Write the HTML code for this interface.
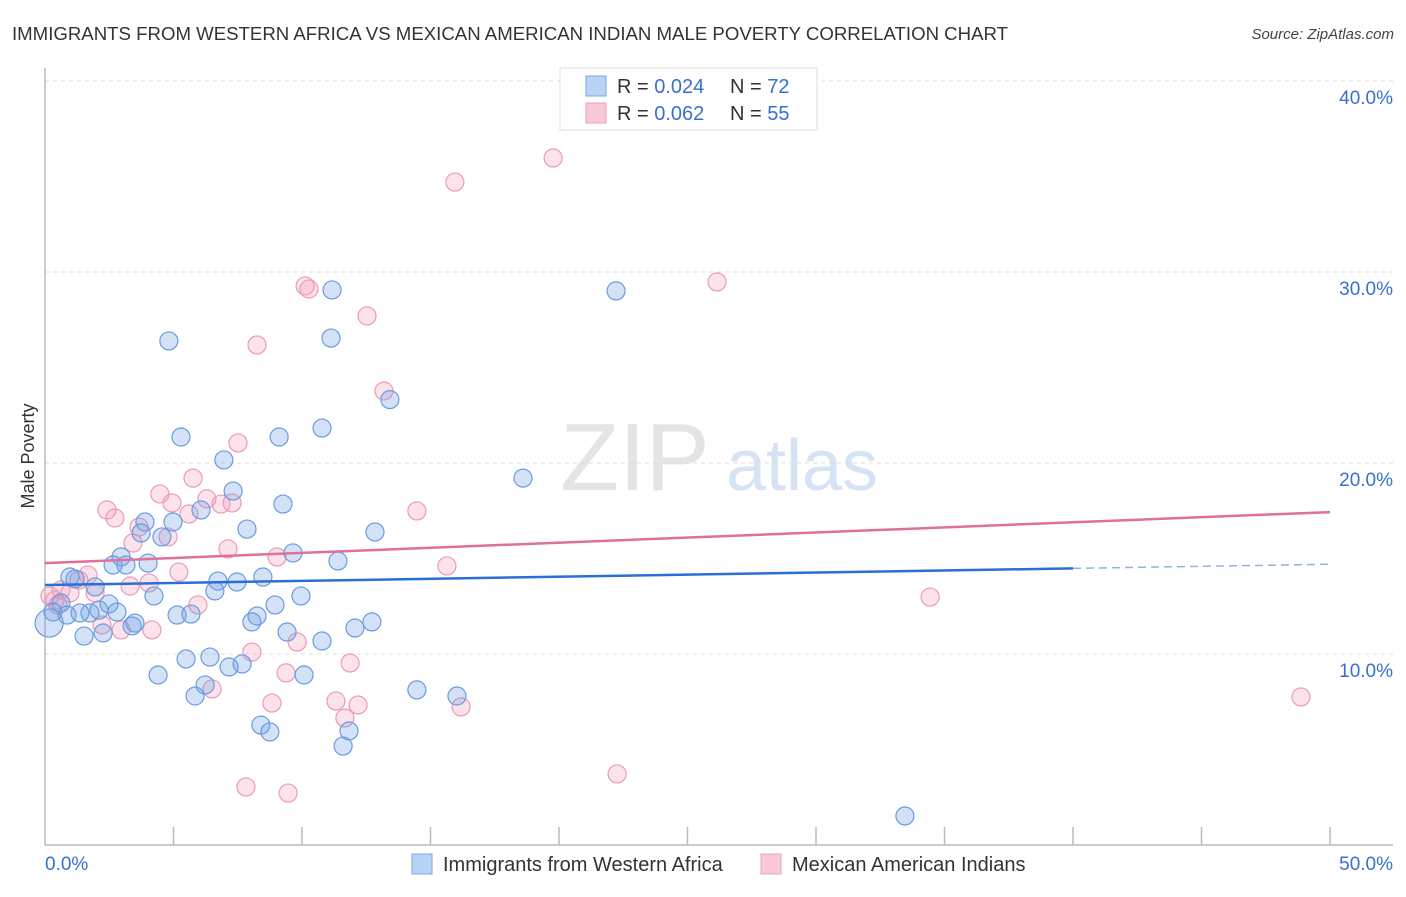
<!DOCTYPE html>
<html><head><meta charset="utf-8">
<style>
body{margin:0;background:#fff;font-family:"Liberation Sans",sans-serif;}
svg text{font-family:"Liberation Sans",sans-serif;}
</style></head>
<body>
<svg id="chart" width="1406" height="892" viewBox="0 0 1406 892" xmlns="http://www.w3.org/2000/svg">
<text x="12" y="40" font-size="18" fill="#333" textLength="996" lengthAdjust="spacingAndGlyphs">IMMIGRANTS FROM WESTERN AFRICA VS MEXICAN AMERICAN INDIAN MALE POVERTY CORRELATION CHART</text>
<text x="1394" y="39" font-size="15" fill="#444" text-anchor="end" font-style="italic">Source: ZipAtlas.com</text>
<g>
<text x="635" y="490" font-size="96" fill="#e4e4e4" text-anchor="middle" font-family="Liberation Serif, serif">ZIP</text>
<text x="802" y="490" font-size="72" fill="#d6e3f5" text-anchor="middle">atlas</text>
</g>
<g id="grid"></g>
<g id="axes"></g>
<g id="pts"></g>
<g id="trend"></g>
<text transform="translate(34,456) rotate(-90)" font-size="18" fill="#333" text-anchor="middle">Male Poverty</text>
<g>
<rect x="560" y="68" width="257" height="62" fill="#fff" stroke="#ddd"/>
<rect x="586" y="76" width="20" height="20" fill="#b9d3f5" stroke="#7aa5e3"/>
<rect x="586" y="103" width="20" height="20" fill="#f9c9d8" stroke="#ec9fb8"/>
<text x="617" y="93" font-size="20" fill="#333">R = <tspan fill="#3a6fd0">0.024</tspan></text>
<text x="730" y="93" font-size="20" fill="#333">N = <tspan fill="#3a6fd0">72</tspan></text>
<text x="617" y="120" font-size="20" fill="#333">R = <tspan fill="#3a6fd0">0.062</tspan></text>
<text x="730" y="120" font-size="20" fill="#333">N = <tspan fill="#3a6fd0">55</tspan></text>
</g>
<g>
<rect x="412" y="854" width="20" height="20" fill="#b9d3f5" stroke="#7aa5e3"/>
<text x="443" y="871" font-size="20" fill="#333">Immigrants from Western Africa</text>
<rect x="761" y="854" width="20" height="20" fill="#f9c9d8" stroke="#ec9fb8"/>
<text x="792" y="871" font-size="20" fill="#333">Mexican American Indians</text>
</g>
</svg>
<script>
const blueX=[11.17,22.22,4.82,11.13,13.42,5.29,9.11,10.78,6.96,18.6,7.32,9.26,6.07,4.98,3.89,7.86,12.84,3.74,4.55,9.65,2.96,4.01,2.65,3.15,11.4,0.97,1.17,1.95,6.73,7.47,8.48,6.61,4.24,9.96,2.49,8.95,0.62,0.31,0.16,0.86,1.36,1.75,2.1,2.8,5.14,5.68,3.5,3.39,2.26,1.52,4.4,5.49,6.42,7.16,7.67,6.23,5.84,8.05,8.25,9.42,10.78,12.06,12.72,10.08,8.4,8.75,11.83,11.6,14.47,16.03,33.46];
const blueY=[29.06,29.01,26.39,26.54,23.32,21.36,21.36,21.83,20.16,19.21,18.53,17.85,17.54,16.91,16.91,16.54,16.39,16.34,16.13,15.29,15.08,14.76,14.66,14.66,14.87,14.03,13.93,13.51,13.82,13.77,14.03,13.3,13.04,13.04,12.62,12.57,12.67,12.2,11.62,12.04,12.15,12.15,12.3,12.2,12.04,12.09,11.62,11.47,11.1,10.94,8.9,9.74,9.84,9.32,9.48,8.38,7.8,11.68,11.99,11.15,10.68,11.36,11.68,8.9,6.28,5.92,5.97,5.18,8.12,7.8,1.52];
const pinkX=[19.77,15.95,26.15,10.12,10.27,12.53,8.25,13.19,7.51,5.76,4.47,4.94,6.3,6.85,7.28,2.41,2.72,14.47,5.6,3.66,4.79,3.42,7.12,9.03,5.21,15.64,1.67,1.32,1.95,0.62,0.97,0.39,3.31,4.05,5.95,4.16,2.96,2.22,8.05,11.87,9.38,9.81,6.5,8.83,11.32,12.18,11.67,16.19,7.82,9.46,22.26,34.44,48.87,0.19,0.5];
const pinkY=[35.97,34.71,29.48,29.27,29.11,27.7,26.18,23.77,21.05,19.21,18.38,17.91,18.12,17.85,17.91,17.54,17.12,17.49,17.33,16.65,16.13,15.81,15.5,15.08,14.29,14.61,14.14,13.87,13.19,13.35,13.19,12.83,13.56,13.72,12.57,11.26,11.26,11.52,10.1,9.53,9.01,10.63,8.17,7.43,7.54,7.33,6.65,7.23,3.04,2.72,3.72,12.98,7.75,13.04,12.57];
const blueTrend=[13.61,14.7];
const pinkTrend=[14.76,17.43];
const yTicks=[10,20,30,40];
const yTickLabels=["10.0%","20.0%","30.0%","40.0%"];
const xEndLabels=["0.0%","50.0%"];

const NS="http://www.w3.org/2000/svg";
const X0=45,X1=1330,Y0=845,PY=19.1;
const sx=v=>X0+(v/50)*(X1-X0);
const sy=v=>Y0-v*PY;
function mk(tag,attrs,parent){const e=document.createElementNS(NS,tag);for(const k in attrs)e.setAttribute(k,attrs[k]);parent.appendChild(e);return e;}
const grid=document.getElementById('grid'),axes=document.getElementById('axes'),pts=document.getElementById('pts'),trend=document.getElementById('trend');
yTicks.forEach((t,i)=>{
  const l=mk('line',{x1:X0,x2:1393,y1:sy(t),y2:sy(t),stroke:'#dcdcdc','stroke-dasharray':'4,4'},grid);
  
  
  const tx=mk('text',{x:1393,y:sy(t)+23,'font-size':19,fill:'#3a6fd0','text-anchor':'end'},axes);
  tx.textContent=yTickLabels[i];
  
  
});
const ax=mk('line',{x1:X0,x2:X0,y1:68,y2:Y0,stroke:'#bbb','stroke-width':1.5},axes);


const bx=mk('line',{x1:X0,x2:1393,y1:Y0,y2:Y0,stroke:'#bbb','stroke-width':1.5},axes);


for(let i=1;i<=10;i++){
  const t=mk('line',{x1:sx(i*5),x2:sx(i*5),y1:Y0-18,y2:Y0,stroke:'#bbb','stroke-width':1.5},axes);
  
  
}
const l0=mk('text',{x:45,y:870,'font-size':19,fill:'#3a6fd0'},axes);l0.textContent=xEndLabels[0];


const l1=mk('text',{x:1393,y:870,'font-size':19,fill:'#3a6fd0','text-anchor':'end'},axes);l1.textContent=xEndLabels[1];



pinkX.forEach((x,i)=>{
  const c=mk('circle',{cx:sx(x),cy:sy(pinkY[i]),r:9,fill:'rgba(244,160,188,0.3)',stroke:'#eb9ab5','stroke-width':1.2},pts);
  
  
});
blueX.forEach((x,i)=>{
  const r=(i===38)?14:9;
  const c=mk('circle',{cx:sx(x),cy:sy(blueY[i]),r:r,fill:'rgba(110,160,230,0.3)',stroke:'#6a9be0','stroke-width':1.2},pts);
  
  
});
const by=v=>blueTrend[0]+(blueTrend[1]-blueTrend[0])*v/50;
const bt=mk('line',{x1:sx(0),y1:sy(by(0)),x2:sx(40),y2:sy(by(40)),stroke:'#2a6fd6','stroke-width':2.5},trend);


const bd=mk('line',{x1:sx(40),y1:sy(by(40)),x2:sx(50),y2:sy(by(50)),stroke:'#8fb1e6','stroke-width':1.5,'stroke-dasharray':'8,5'},trend);


const pt=mk('line',{x1:sx(0),y1:sy(pinkTrend[0]),x2:sx(50),y2:sy(pinkTrend[1]),stroke:'#e0709a','stroke-width':2.5},trend);


</script>
</body></html>
